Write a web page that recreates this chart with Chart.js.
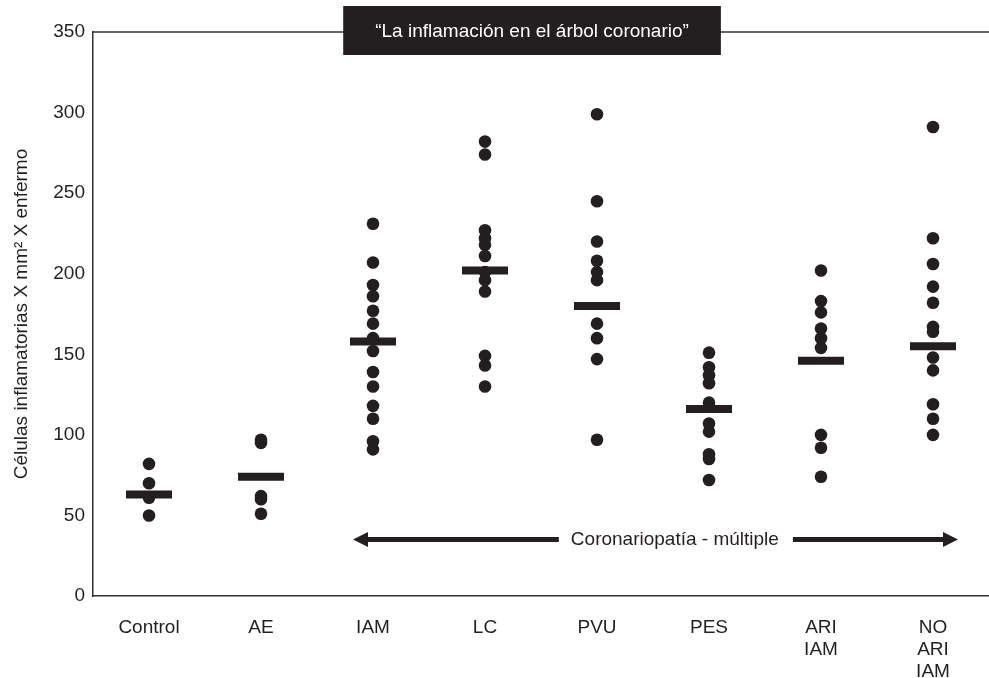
<!DOCTYPE html>
<html>
<head>
<meta charset="utf-8">
<script src="https://cdn.jsdelivr.net/npm/chart.js@4/dist/chart.umd.min.js"></script>
<style>
  body { margin: 0; background: #fff; }
  #wrap { width: 989px; height: 678px; position: relative; }
</style>
</head>
<body>
<div id="wrap"><canvas id="chart"></canvas></div>
<script>
// groups along the x axis
const groups = ['Control', 'AE', 'IAM', 'LC', 'PVU', 'PES', 'ARI IAM', 'NO ARI IAM'];

// individual patients
const control = [82, 70, 61, 50];
const ae = [97, 95, 62, 60, 51];
const iam = [231, 207, 193, 186, 177, 169, 160, 152, 139, 130, 118, 110, 96, 91];
const lc = [282, 274, 227, 222, 218, 211, 201, 196, 189, 149, 143, 130];
const pvu = [299, 245, 220, 208, 201, 196, 169, 160, 147, 97];
const pes = [151, 142, 137, 132, 120, 107, 102, 88, 85, 72];
const ariIam = [202, 183, 176, 166, 160, 154, 100, 92, 74];
const noAriIam = [291, 222, 206, 192, 182, 167, 164, 148, 140, 119, 110, 100];

// group means (horizontal bars)
const means = [63, 74, 158, 202, 180, 116, 146, 155];

const yTicks = [0, 50, 100, 150, 200, 250, 300, 350];
const panelTitle = '\u201CLa inflamación en el árbol coronario\u201D';
const arrowText = 'Coronariopatía - múltiple';
const arrowLevel = 35;

const INK = '#231f20';
const FONT = '"Liberation Sans", Arial, sans-serif';

const values = [control, ae, iam, lc, pvu, pes, ariIam, noAriIam];
const dots = [];
values.forEach(function(list, i) {
    list.forEach(function(v) { dots.push({ x: groups[i], y: v }); });
});
const meanPoints = means.map(function(v, i) { return { x: groups[i], y: v }; });

// top frame line, title box and the arrow annotation
const decor = {
    id: 'decor',
    afterDraw(chart) {
        const ctx = chart.ctx;
        const a = chart.chartArea;
        const xs = chart.scales.x;
        const ys = chart.scales.y;
        ctx.save();

        ctx.strokeStyle = '#333';
        ctx.lineWidth = 1.5;
        ctx.beginPath();
        ctx.moveTo(a.left, a.top);
        ctx.lineTo(a.right, a.top);
        ctx.stroke();

        ctx.font = '19px ' + FONT;
        const tw = ctx.measureText(panelTitle).width;
        const cx = a.left + a.width * 0.49;
        ctx.fillStyle = INK;
        ctx.fillRect(cx - tw / 2 - 32, a.top - 26, tw + 64, 49);
        ctx.fillStyle = '#fff';
        ctx.textAlign = 'center';
        ctx.textBaseline = 'middle';
        ctx.fillText(panelTitle, cx, a.top);

        // arrow
        const ay = ys.getPixelForValue(arrowLevel);
        const x0 = xs.getPixelForValue(2) - 20;
        const x1 = xs.getPixelForValue(7) + 25;
        ctx.strokeStyle = INK;
        ctx.fillStyle = INK;
        ctx.lineWidth = 5;
        ctx.beginPath();
        ctx.moveTo(x0 + 10, ay);
        ctx.lineTo(x1 - 10, ay);
        ctx.stroke();
        ctx.beginPath();
        ctx.moveTo(x0, ay);
        ctx.lineTo(x0 + 15, ay - 7.5);
        ctx.lineTo(x0 + 15, ay + 7.5);
        ctx.closePath();
        ctx.fill();
        ctx.beginPath();
        ctx.moveTo(x1, ay);
        ctx.lineTo(x1 - 15, ay - 7.5);
        ctx.lineTo(x1 - 15, ay + 7.5);
        ctx.closePath();
        ctx.fill();

        const tx = x0 + (x1 - x0) * 0.532;
        const aw = ctx.measureText(arrowText).width;
        ctx.fillStyle = '#fff';
        ctx.fillRect(tx - aw / 2 - 12, ay - 12, aw + 26, 24);
        ctx.fillStyle = INK;
        ctx.fillText(arrowText, tx, ay);
        ctx.restore();
    }
};

const config = {
    type: 'scatter',
    data: {
        labels: groups,
        datasets: [
            {
                label: 'Media',
                data: meanPoints,
                pointStyle: 'line',
                pointRadius: 23,
                pointHoverRadius: 23,
                borderWidth: 8,
                pointBorderWidth: 8,
                borderColor: INK,
                backgroundColor: INK
            },
            {
                label: 'Pacientes',
                data: dots,
                pointStyle: 'circle',
                pointRadius: 6.3,
                pointHoverRadius: 6.3,
                pointBorderWidth: 0,
                borderWidth: 0,
                backgroundColor: INK,
                borderColor: INK
            }
        ]
    },
    options: {
        responsive: true,
        maintainAspectRatio: false,
        animation: false,
        layout: { autoPadding: false, padding: { top: 32, right: 0, left: 0, bottom: 0 } },
        plugins: {
            legend: { display: false },
            tooltip: { enabled: false }
        },
        scales: {
            x: {
                type: 'category',
                labels: groups,
                offset: true,
                grid: { display: false, drawTicks: false },
                border: { display: true, color: '#333', width: 1.5 },
                ticks: {
                    color: INK,
                    padding: 21,
                    maxRotation: 0,
                    autoSkip: false,
                    font: { family: FONT, size: 19, lineHeight: 1.15 },
                    callback: function(value) {
                        return this.getLabelForValue(value).split(' ');
                    }
                },
                afterFit: function(scale) {
                    scale.height = 82;
                    scale.paddingLeft = 0;
                    scale.paddingRight = 0;
                }
            },
            y: {
                min: 0,
                max: 350,
                afterBuildTicks: function(scale) {
                    scale.ticks = yTicks.map(function(v) { return { value: v }; });
                },
                grid: { display: false, drawTicks: false },
                border: { display: true, color: '#333', width: 1.5 },
                ticks: {
                    color: INK,
                    padding: 8,
                    font: { family: FONT, size: 19 }
                },
                title: {
                    display: true,
                    text: 'Células inflamatorias X mm² X enfermo',
                    color: INK,
                    font: { family: FONT, size: 19 },
                    padding: { top: 10, bottom: 0 }
                },
                afterFit: function(scale) { scale.width = 93; }
            }
        }
    },
    plugins: [decor]
};

const ctx = document.getElementById('chart').getContext('2d');
new Chart(ctx, config);
</script>
</body>
</html>
